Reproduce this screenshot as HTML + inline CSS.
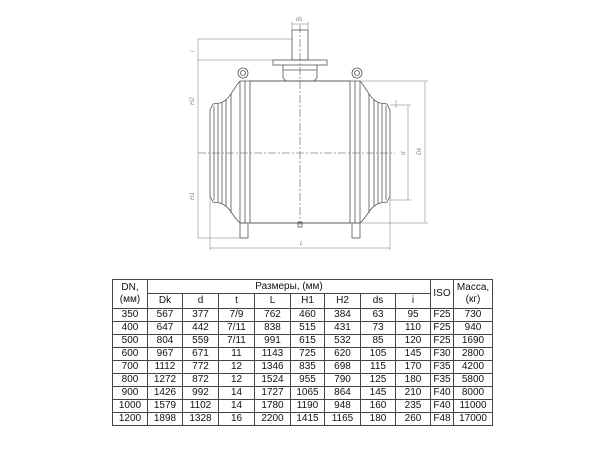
<!DOCTYPE html>
<html><head><meta charset="utf-8"><style>
body{margin:0;background:#fff;width:600px;height:450px;overflow:hidden;position:relative;font-family:"Liberation Sans",sans-serif}
svg{position:absolute;left:0;top:0}
table{position:absolute;left:112px;top:279px;border-collapse:collapse;font-size:10px;color:#111}
td{border:1px solid #444;text-align:center;padding:0;height:12px;line-height:12px}
</style></head><body>
<svg width="600" height="450" viewBox="0 0 600 450" fill="none" stroke="#555" stroke-width="0.8">
<rect x="250" y="81" width="100" height="142"/>
<line x1="240" y1="81" x2="240" y2="223"/><line x1="245" y1="81" x2="245" y2="223"/>
<line x1="355" y1="81" x2="355" y2="223"/><line x1="360" y1="81" x2="360" y2="223"/>
<line x1="240" y1="81" x2="360" y2="81"/><line x1="240" y1="223" x2="360" y2="223"/>
<path d="M240 81 C232 90 230 100 220 103 L213 104 L210 110 L210 196 L213 202 L220 203 C230 206 232 216 240 223"/>
<path d="M214 106 L214 200 M218 104 L218 202 M222 102 L222 204 M226 99 L226 207 M231 93 L231 213"/>
<path d="M360 81 C368 90 370 100 380 103 L387 104 L390 110 L390 196 L387 202 L380 203 C370 206 368 216 360 223"/>
<path d="M386 106 L386 200 M382 104 L382 202 M378 102 L378 204 M374 99 L374 207 M369 93 L369 213"/>
<rect x="292" y="30" width="16" height="30"/>
<rect x="273" y="60" width="54" height="5"/>
<path d="M283 65 L283 78 L286 81 L314 81 L317 78 L317 65"/>
<line x1="283" y1="70" x2="317" y2="70"/>
<circle cx="243" cy="73" r="5"/><circle cx="243" cy="73" r="2.5"/>
<circle cx="357" cy="73" r="5"/><circle cx="357" cy="73" r="2.5"/>
<rect x="240" y="223" width="8" height="15"/><rect x="352" y="223" width="8" height="15"/>
<rect x="298" y="222" width="4" height="5"/>
<g stroke-dasharray="8 2 2 2" stroke-width="0.6">
<line x1="198" y1="153" x2="395" y2="153"/><line x1="300" y1="25" x2="300" y2="225"/>
</g>
<g stroke-width="0.5" stroke="#777">
<line x1="198" y1="39" x2="198" y2="238"/>
<line x1="198" y1="39" x2="292" y2="39"/><line x1="198" y1="60" x2="273" y2="60"/><line x1="198" y1="238" x2="240" y2="238"/>
<line x1="210" y1="248" x2="390" y2="248"/><line x1="210" y1="196" x2="210" y2="250"/><line x1="390" y1="196" x2="390" y2="250"/>
<line x1="425" y1="81" x2="425" y2="223"/><line x1="360" y1="81" x2="428" y2="81"/><line x1="360" y1="223" x2="428" y2="223"/>
<line x1="408" y1="105" x2="408" y2="200"/><line x1="390" y1="105" x2="411" y2="105"/><line x1="390" y1="200" x2="411" y2="200"/>
<line x1="292" y1="22" x2="292" y2="30"/><line x1="308" y1="22" x2="308" y2="30"/><line x1="292" y1="24" x2="308" y2="24"/>
<line x1="396" y1="100" x2="396" y2="108"/>
</g>
<g fill="#888" stroke="none" font-size="6" font-style="italic" font-family="Liberation Sans">
<text x="296" y="21">ds</text>
<text transform="translate(194 105) rotate(-90)">H2</text>
<text transform="translate(194 200) rotate(-90)">H1</text>
<text transform="translate(194 52) rotate(-90)">i</text>
<text transform="translate(421 155) rotate(-90)">Dk</text>
<text transform="translate(405 155) rotate(-90)">d</text>
<text x="300" y="245">L</text>
</g>
</svg>
<table>
<tr><td rowspan="2" style="width:34px;line-height:12px">DN,<br>(мм)</td><td colspan="8" style="height:13px">Размеры, (мм)</td><td rowspan="2" style="width:22px">ISO</td><td rowspan="2" style="width:38px;line-height:12px">Масса,<br>(кг)</td></tr>
<tr><td style="width:34px;height:14px">Dk</td><td style="width:35px">d</td><td style="width:35px">t</td><td style="width:35px">L</td><td style="width:33px">H1</td><td style="width:35px">H2</td><td style="width:34px">ds</td><td style="width:34px">i</td></tr>
<tr><td>350</td><td>567</td><td>377</td><td>7/9</td><td>762</td><td>460</td><td>384</td><td>63</td><td>95</td><td>F25</td><td>730</td></tr>
<tr><td>400</td><td>647</td><td>442</td><td>7/11</td><td>838</td><td>515</td><td>431</td><td>73</td><td>110</td><td>F25</td><td>940</td></tr>
<tr><td>500</td><td>804</td><td>559</td><td>7/11</td><td>991</td><td>615</td><td>532</td><td>85</td><td>120</td><td>F25</td><td>1690</td></tr>
<tr><td>600</td><td>967</td><td>671</td><td>11</td><td>1143</td><td>725</td><td>620</td><td>105</td><td>145</td><td>F30</td><td>2800</td></tr>
<tr><td>700</td><td>1112</td><td>772</td><td>12</td><td>1346</td><td>835</td><td>698</td><td>115</td><td>170</td><td>F35</td><td>4200</td></tr>
<tr><td>800</td><td>1272</td><td>872</td><td>12</td><td>1524</td><td>955</td><td>790</td><td>125</td><td>180</td><td>F35</td><td>5800</td></tr>
<tr><td>900</td><td>1426</td><td>992</td><td>14</td><td>1727</td><td>1065</td><td>864</td><td>145</td><td>210</td><td>F40</td><td>8000</td></tr>
<tr><td>1000</td><td>1579</td><td>1102</td><td>14</td><td>1780</td><td>1190</td><td>948</td><td>160</td><td>235</td><td>F40</td><td>11000</td></tr>
<tr><td>1200</td><td>1898</td><td>1328</td><td>16</td><td>2200</td><td>1415</td><td>1165</td><td>180</td><td>260</td><td>F48</td><td>17000</td></tr>
</table>
</body></html>
